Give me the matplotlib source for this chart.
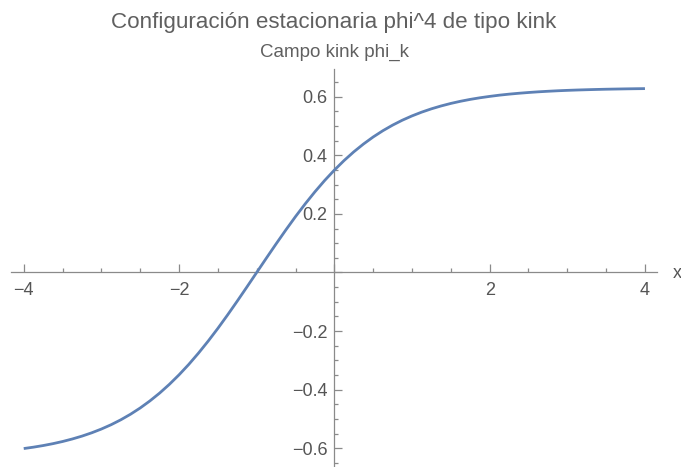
import matplotlib
matplotlib.use("Agg")
import matplotlib.pyplot as plt
from matplotlib.ticker import MultipleLocator, FuncFormatter

# Values
x_vals = [-4.0, -3.875, -3.75, -3.625, -3.5, -3.375, -3.25, -3.125, -3.0, -2.875,
          -2.75, -2.625, -2.5, -2.375, -2.25, -2.125, -2.0, -1.875, -1.75, -1.625,
          -1.5, -1.375, -1.25, -1.125, -1.0, -0.875, -0.75, -0.625, -0.5, -0.375,
          -0.25, -0.125, 0.0, 0.125, 0.25, 0.375, 0.5, 0.625, 0.75, 0.875,
          1.0, 1.125, 1.25, 1.375, 1.5, 1.625, 1.75, 1.875, 2.0, 2.125,
          2.25, 2.375, 2.5, 2.625, 2.75, 2.875, 3.0, 3.125, 3.25, 3.375,
          3.5, 3.625, 3.75, 3.875, 4.0]
phi_vals = [-0.6010, -0.5963, -0.5908, -0.5844, -0.5770, -0.5684, -0.5586, -0.5473,
            -0.5344, -0.5197, -0.5029, -0.4839, -0.4625, -0.4384, -0.4117, -0.3820,
            -0.3494, -0.3139, -0.2754, -0.2343, -0.1908, -0.1450, -0.0976, -0.0491,
            0.0, 0.0491, 0.0976, 0.1450, 0.1908, 0.2343, 0.2754, 0.3139,
            0.3494, 0.3820, 0.4117, 0.4384, 0.4625, 0.4839, 0.5029, 0.5197,
            0.5344, 0.5473, 0.5586, 0.5684, 0.5770, 0.5844, 0.5908, 0.5963,
            0.6010, 0.6052, 0.6087, 0.6117, 0.6143, 0.6166, 0.6185, 0.6202,
            0.6216, 0.6228, 0.6238, 0.6247, 0.6255, 0.6261, 0.6267, 0.6272, 0.6276]

title_text = "Configuración estacionaria phi^4 de tipo kink"
subtitle_text = "Campo kink phi_k"
x_label = "x"

plt.rcParams['font.family'] = ['Liberation Sans', 'DejaVu Sans']

W, H = 681, 467
fig = plt.figure(figsize=(W / 100, H / 100), dpi=100)
ax = fig.add_axes([11 / W, 0.0, (657.3 - 11) / W, (467 - 69.3) / H])
ax.set_xlim(-4.164, 4.159)
ax.set_ylim(-0.664, 0.6935)

ax.plot(x_vals, phi_vals, color='#5E81B5', lw=2.0, solid_capstyle='butt',
        solid_joinstyle='round', zorder=3)

axis_col = '#8a8a8a'
label_col = '#555555'
for s in ['top', 'right']:
    ax.spines[s].set_visible(False)
for s in ['left', 'bottom']:
    ax.spines[s].set_position(('data', 0))
    ax.spines[s].set_color(axis_col)
    ax.spines[s].set_linewidth(0.9)

ax.xaxis.set_major_locator(MultipleLocator(2))
ax.xaxis.set_minor_locator(MultipleLocator(0.5))
ax.yaxis.set_major_locator(MultipleLocator(0.2))
ax.yaxis.set_minor_locator(MultipleLocator(0.05))

def fmt(v, pos):
    if abs(v) < 1e-9:
        return ''
    s = ('%g' % round(v, 2))
    return s.replace('-', '\u2212')

ax.xaxis.set_major_formatter(FuncFormatter(fmt))
ax.yaxis.set_major_formatter(FuncFormatter(fmt))

ax.tick_params(which='both', direction='in', color=axis_col, width=0.9,
               labelcolor=label_col, labelsize=13)
ax.tick_params(which='major', length=5.5)
ax.tick_params(which='minor', length=3)
ax.tick_params(axis='x', which='major', pad=7)
ax.tick_params(axis='y', which='major', pad=5)
ax.patch.set_alpha(0)

fig.text(677 / W, 1 - 273 / H, x_label, ha='center', va='center', fontsize=13, color=label_col)
fig.text(334 / W, 1 - 28.3 / H, title_text, ha='center', va='baseline', fontsize=16.1, color='#606060')
fig.text(334 / W, 1 - 57.3 / H, subtitle_text, ha='center', va='baseline', fontsize=13.5, color='#606060')

fig.savefig('out.png', dpi=100)
